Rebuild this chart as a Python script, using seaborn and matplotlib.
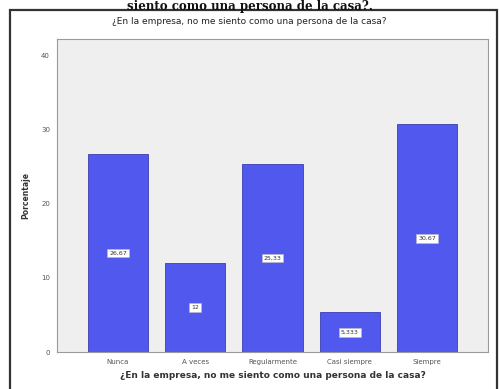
import matplotlib
matplotlib.use("Agg")
import matplotlib.pyplot as plt
import seaborn as sns
import pandas as pd
from matplotlib.patches import Rectangle

categories = ["Nunca", "A veces", "Regularmente", "Casi siempre", "Siempre"]
values = [26.67, 12.0, 25.33, 5.333, 30.67]
value_labels = ["26,67", "12", "25,33", "5,333", "30,67"]
yticks = [0, 10, 20, 30, 40]

df = pd.DataFrame({"cat": categories, "pct": values})

sns.set_style("white")
plt.rcParams["font.family"] = ["DejaVu Sans"]

fig = plt.figure(figsize=(4.99, 3.89), dpi=100)
ax = fig.add_axes([0.114, 0.095, 0.864, 0.805])
sns.barplot(data=df, x="cat", y="pct", color="#5058EE", saturation=1,
            width=0.78, ax=ax, edgecolor="#3a3fb0", linewidth=0.6)
ax.set_facecolor("#EFEFEF")
ax.set_xlim(-0.79, 4.79)
ax.set_ylim(0, 42.2)
ax.set_yticks(yticks)
ax.set_yticklabels([str(t) for t in yticks], fontsize=5, color="#666666")
ax.set_xticks(range(len(categories)))
ax.set_xticklabels(categories, fontsize=5, color="#555555")
ax.tick_params(axis="both", length=3, width=0.6, colors="#888888", labelcolor="#555555", pad=2)
ax.set_xlabel("¿En la empresa, no me siento como una persona de la casa?",
              fontsize=6.5, fontweight="bold", color="#333333", labelpad=4)
ax.set_ylabel("Porcentaje", fontsize=5.5, fontweight="bold", color="#333333", labelpad=8)
for s in ax.spines.values():
    s.set_color("#9a9a9a")
    s.set_linewidth(0.8)

for i, (v, lab) in enumerate(zip(values, value_labels)):
    ax.text(i, v / 2, lab, ha="center", va="center", fontsize=4.5, color="#333333",
            bbox=dict(boxstyle="square,pad=0.3", facecolor="white", edgecolor="#bbbbbb", linewidth=0.4))

fig.text(0.5, 0.945, "¿En la empresa, no me siento como una persona de la casa?",
         ha="center", va="center", fontsize=6.5, color="#222222")
fig.text(0.5, 0.999, "siento como una persona de la casa?.", ha="center", va="top",
         fontsize=8.5, fontweight="bold", family=["DejaVu Serif"], color="#111111")
fig.patches.append(Rectangle((0.02, -0.01), 0.976, 0.984, transform=fig.transFigure,
                             fill=False, edgecolor="#333333", linewidth=1.6))

fig.savefig("out.png", dpi=100, facecolor="white")
